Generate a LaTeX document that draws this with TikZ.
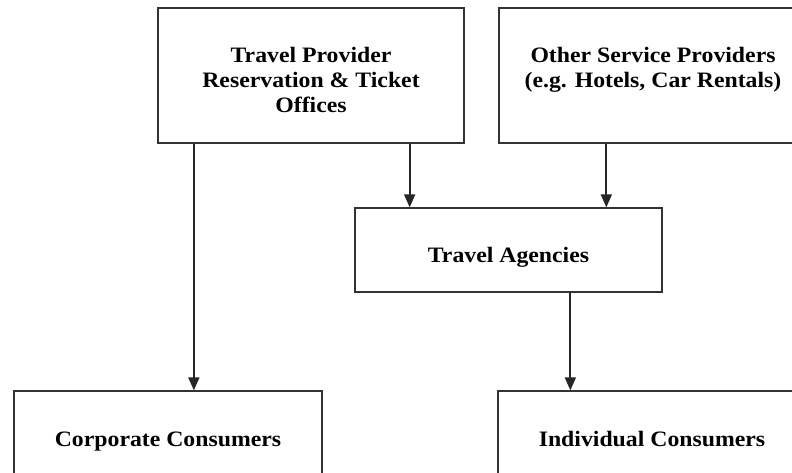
\documentclass[tikz,border=0pt]{standalone}
\usepackage{fontspec}
\setmainfont{Liberation Serif}[FakeStretch=1.08]
\usetikzlibrary{arrows.meta}
\begin{document}
\begin{tikzpicture}[x=1pt,y=-1pt,
  box/.style={draw=black!80, line width=1.3pt, inner sep=0pt, minimum width=#1},
  lbl/.style={font=\fontsize{22}{25}\selectfont\bfseries, align=center, inner sep=0pt, anchor=base},
  arr/.style={draw=black!85, line width=1.8pt, -{Triangle[length=13pt,width=11pt]}}]
\useasboundingbox (0,0) rectangle (792,472);
\clip (0,0) rectangle (792,472);
\node[box=306pt, minimum height=135pt] (tp) at (311,75.5) {};
\node[box=308pt, minimum height=135pt] (os) at (653,75.5) {};
\node[box=307pt, minimum height=84pt] (ta) at (508.5,250) {};
\node[box=308pt, minimum height=100pt] (cc) at (168,441) {};
\node[box=308pt, minimum height=100pt] (ic) at (652,441) {};
\node[lbl] (tpt) at (311,112) {Travel Provider\\Reservation \& Ticket\\Offices};
\node[lbl] (ost) at (653,87) {Other Service Providers\\(e.g. Hotels, Car Rentals)};
\node[lbl] (tat) at (508.5,262) {Travel Agencies};
\node[lbl] (cct) at (168,446) {Corporate Consumers};
\node[lbl] (ict) at (652,446) {Individual Consumers};
\draw[arr] ([xshift=36.5pt]tp.south west) -- ([xshift=36.5pt]tp.south west |- cc.north);
\draw[arr] ([xshift=-55pt]tp.south east) -- ([xshift=-55pt]tp.south east |- ta.north);
\draw[arr] ([xshift=108pt]os.south west) -- ([xshift=108pt]os.south west |- ta.north);
\draw[arr] ([xshift=216pt]ta.south west) -- ([xshift=216pt]ta.south west |- ic.north);
\end{tikzpicture}
\end{document}
